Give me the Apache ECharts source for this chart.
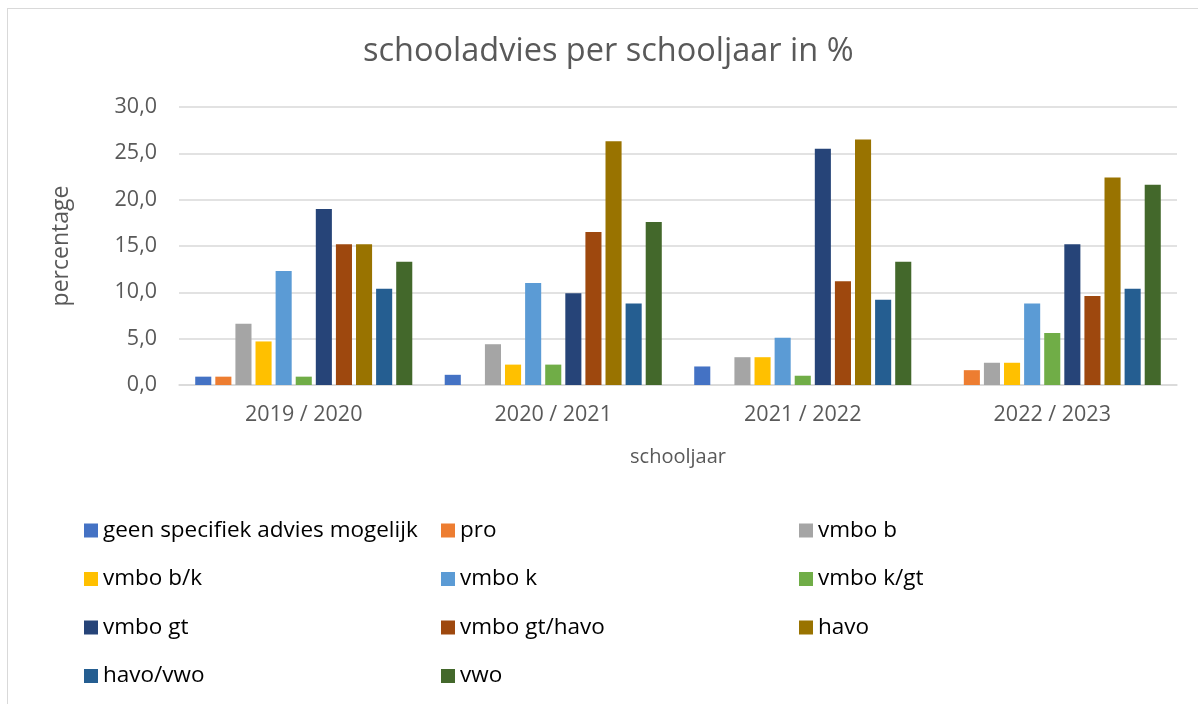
<!DOCTYPE html>
<html>
<head>
<meta charset="utf-8">
<title>schooladvies per schooljaar</title>
<script src="https://cdn.jsdelivr.net/npm/echarts@6/dist/echarts.min.js"></script>
<style>
  html, body { margin: 0; padding: 0; background: #fff; }
  .frame {
    position: absolute; left: 7px; top: 8px; width: 1300px; height: 800px;
    border-left: 1px solid #d9d9d9; border-top: 1px solid #d9d9d9;
  }
  #chart { position: absolute; left: 0; top: 0; width: 1198px; height: 704px; }
</style>
</head>
<body>
<div class="frame"></div>
<div id="chart"></div>
<script>
// schooljaren op de x-as
const schooljaren = ['2019 / 2020', '2020 / 2021', '2021 / 2022', '2022 / 2023']

// percentages per advies
const geenAdvies = [0.9, 1.1, 2.0, 0]
const pro = [0.9, 0, 0, 1.6]
const vmboB = [6.6, 4.4, 3.0, 2.4]
const vmboBK = [4.7, 2.2, 3.0, 2.4]
const vmboK = [12.3, 11.0, 5.1, 8.8]
const vmboKGT = [0.9, 2.2, 1.0, 5.6]
const vmboGT = [19.0, 9.9, 25.5, 15.2]
const vmboGTHavo = [15.2, 16.5, 11.2, 9.6]
const havo = [15.2, 26.3, 26.5, 22.4]
const havoVwo = [10.4, 8.8, 9.2, 10.4]
const vwo = [13.3, 17.6, 13.3, 21.6]

const yTicks = [0, 5, 10, 15, 20, 25, 30]

const reeksen = [
  ['geen specifiek advies mogelijk', geenAdvies, '#4472C4'],
  ['pro', pro, '#ED7D31'],
  ['vmbo b', vmboB, '#A5A5A5'],
  ['vmbo b/k', vmboBK, '#FFC000'],
  ['vmbo k', vmboK, '#5B9BD5'],
  ['vmbo k/gt', vmboKGT, '#70AD47'],
  ['vmbo gt', vmboGT, '#264478'],
  ['vmbo gt/havo', vmboGTHavo, '#9E480E'],
  ['havo', havo, '#997300'],
  ['havo/vwo', havoVwo, '#255E91'],
  ['vwo', vwo, '#43682B'],
]

const font = '"Open Sans", Lato, sans-serif'

// legenda in drie kolommen, zoals in Excel
function legendKolom(left, namen) {
  return {
    orient: 'vertical',
    left: left,
    top: 514,
    itemWidth: 14,
    itemHeight: 14,
    itemGap: 25.5,
    icon: 'rect',
    selectedMode: false,
    data: namen,
    textStyle: { fontFamily: font, fontSize: 22.5, color: '#000', lineHeight: 20 },
  }
}

const myChart = echarts.init(document.getElementById('chart'))
const option = {
  animation: false,
  textStyle: { fontFamily: font },
  title: {
    text: 'schooladvies per schooljaar in %',
    left: 358,
    top: 30,
    textStyle: { fontFamily: font, fontSize: 32.5, fontWeight: 'normal', color: '#595959' },
  },
  legend: [
    legendKolom(79, [reeksen[0][0], reeksen[3][0], reeksen[6][0], reeksen[9][0]]),
    legendKolom(436, [reeksen[1][0], reeksen[4][0], reeksen[7][0], reeksen[10][0]]),
    legendKolom(794, [reeksen[2][0], reeksen[5][0], reeksen[8][0]]),
  ],
  grid: { left: 179, right: 21, top: 107, bottom: 319 },
  xAxis: {
    type: 'category',
    data: schooljaren,
    name: 'schooljaar',
    nameLocation: 'middle',
    nameGap: 62,
    nameTextStyle: { fontFamily: font, fontSize: 20, color: '#595959' },
    axisLine: { lineStyle: { color: '#d9d9d9', width: 1.5 } },
    axisTick: { show: false },
    axisLabel: { fontFamily: font, fontSize: 21.5, color: '#595959', margin: 19 },
  },
  yAxis: {
    type: 'value',
    min: yTicks[0],
    max: yTicks[yTicks.length - 1],
    interval: yTicks[1] - yTicks[0],
    name: 'percentage',
    nameLocation: 'middle',
    nameGap: 106,
    nameTextStyle: { fontFamily: font, fontSize: 23, color: '#595959' },
    axisLine: { show: false },
    axisTick: { show: false },
    splitLine: { lineStyle: { color: '#d9d9d9', width: 1.5 } },
    axisLabel: {
      fontFamily: font,
      fontSize: 21.5,
      color: '#595959',
      margin: 22,
      formatter: function (v) {
        return v.toFixed(1).replace('.', ',')
      },
    },
  },
  series: reeksen.map(function (r) {
    return {
      name: r[0],
      type: 'bar',
      data: r[1],
      barGap: '25%',
      barCategoryGap: '13%',
      itemStyle: { color: r[2] },
    }
  }),
}
myChart.setOption(option)
window.addEventListener('resize', function () {
  myChart.resize()
})
</script>
</body>
</html>
